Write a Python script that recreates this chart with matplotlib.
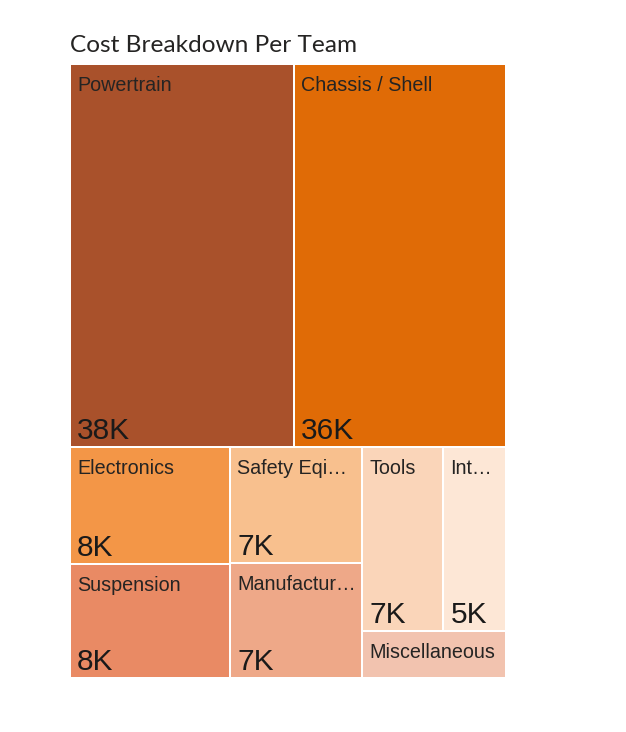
import matplotlib
matplotlib.use("Agg")
import matplotlib.pyplot as plt
from matplotlib.patches import Rectangle

# categories as shown in the tiles (Power BI cut the long ones)
names = ["Powertrain", "Chassis / Shell", "Electronics", "Suspension",
         "Safety Eqi…", "Manufactur…", "Tools", "Int…", "Miscellaneous"]
values = [38.0, 36.0, 8.3, 8.1, 6.8, 6.7, 6.6, 5.1, 3.0]   # thousands
value_labels = ["38K", "36K", "8K", "8K", "7K", "7K", "7K", "5K", ""]
colors = ["#A9512B", "#E06B06", "#F39647", "#E98A64", "#F8C08E",
          "#EEA888", "#FAD5B9", "#FDE7D6", "#F2C3AF"]

# how the tiles are nested: 'v' stacks top to bottom, 'h' goes left to right
layout = ("v", [("h", [0, 1]),
                ("h", [("v", [2, 3]),
                       ("v", [4, 5]),
                       ("v", [("h", [6, 7]), 8])])])


def node_sum(node):
    if isinstance(node, int):
        return values[node]
    return sum(node_sum(c) for c in node[1])


def place(node, x, y, w, h, out):
    if isinstance(node, int):
        out[node] = (x, y, w, h)
        return
    kind, kids = node
    total = node_sum(node)
    pos = 0.0
    for c in kids:
        frac = node_sum(c) / total
        if kind == "h":
            place(c, x + pos * w, y, frac * w, h, out)
        else:
            place(c, x, y + pos * h, w, frac * h, out)
        pos += frac


rects = {}
place(layout, 0.0, 0.0, 1.0, 1.0, rects)

W, H = 626, 732
fig = plt.figure(figsize=(W / 100, H / 100), dpi=100)
ax = fig.add_axes([70 / W, (H - 678) / H, 436 / W, 614 / H])
ax.set_xlim(0, 1)
ax.set_ylim(1, 0)
ax.axis("off")

px = 72 / 100  # points per pixel
for i in range(len(names)):
    x, y, w, h = rects[i]
    ax.add_patch(Rectangle((x, y), w, h, facecolor=colors[i],
                           edgecolor="white", linewidth=2 * px))
    ax.annotate(names[i], (x, y), xytext=(7 * px, -12 * px),
                textcoords="offset points", ha="left", va="top",
                fontsize=14.2, family="Liberation Sans", color="#252423")
    if value_labels[i]:
        ax.annotate(value_labels[i], (x, y + h), xytext=(7 * px, 8 * px),
                    textcoords="offset points", ha="left", va="baseline",
                    fontsize=21.5, family="Liberation Sans", color="#1a1a1a")

fig.text(70 / W, 1 - 52 / H, "Cost Breakdown Per Team", ha="left",
         va="baseline", fontsize=17.6, family="Lato", color="#252423")

fig.savefig("out.png", dpi=100, facecolor="white")
